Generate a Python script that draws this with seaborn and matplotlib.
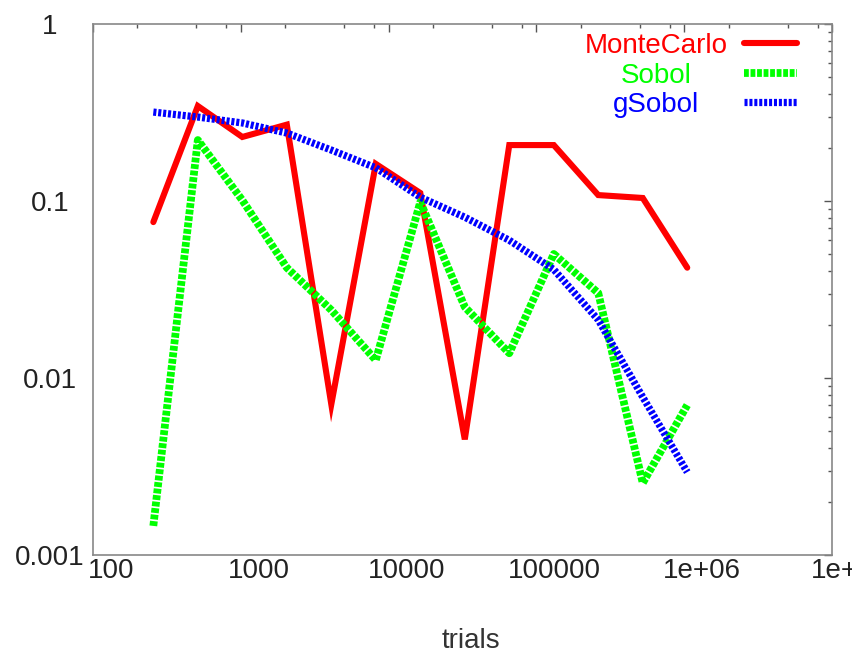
import numpy as np
import pandas as pd
import matplotlib
matplotlib.use("Agg")
import matplotlib.pyplot as plt
import matplotlib.transforms as mtrans
from matplotlib.ticker import LogLocator, NullFormatter
import seaborn as sns

# ---- data ----
trials = [256, 512, 1024, 2048, 4096, 8192, 16384, 32768, 65536,
          131072, 262144, 524288, 1048576]
monte_carlo = [0.076, 0.344, 0.23, 0.27, 0.0071, 0.162, 0.111, 0.0045,
               0.207, 0.207, 0.108, 0.104, 0.042]
sobol = [0.00146, 0.221, 0.101, 0.042, 0.0242, 0.0126, 0.0987, 0.0252,
         0.0138, 0.0502, 0.0302, 0.00255, 0.00703]
gsobol = [0.318, 0.298, 0.276, 0.242, 0.194, 0.154, 0.105, 0.081,
          0.060, 0.041, 0.0213, 0.0078, 0.00294]
series_names = ["MonteCarlo", "Sobol", "gSobol"]
x_tick_values = [100, 1000, 10000, 100000, 1000000, 10000000]
x_tick_labels = ["100", "1000", "10000", "100000", "1e+06", "1e+07"]
y_tick_values = [0.001, 0.01, 0.1, 1]
y_tick_labels = ["0.001", "0.01", "0.1", "1"]

sns.set_style("white")
plt.rcParams["font.family"] = ["Liberation Sans", "DejaVu Sans"]
plt.rcParams["font.size"] = 20

DPI = 100
fig = plt.figure(figsize=(8.53, 6.55), dpi=DPI)
ax = fig.add_axes([93 / 853, 1 - 555 / 655, (832 - 93) / 853, (555 - 24) / 655])

colors = {"MonteCarlo": "#ff0000", "Sobol": "#00ff00", "gSobol": "#0000ff"}
widths = {"MonteCarlo": 4.4, "Sobol": 5.6, "gSobol": 5.2}
dashes = {"MonteCarlo": None, "Sobol": (0.62, 0.22), "gSobol": (0.42, 0.26)}
values = {"MonteCarlo": monte_carlo, "Sobol": sobol, "gSobol": gsobol}

for name in series_names:
    df = pd.DataFrame({"trials": trials, "err": values[name]})
    n_before = len(ax.lines)
    sns.lineplot(data=df, x="trials", y="err", ax=ax, color=colors[name],
                 linewidth=widths[name], label=name, estimator=None, sort=False,
                 legend=False)
    line = ax.lines[n_before]
    line.set_solid_joinstyle("miter")
    line.set_dash_capstyle("butt")
    if dashes[name] is not None:
        line.set_dashes(dashes[name])

ax.set_xscale("log")
ax.set_yscale("log")
ax.set_xlim(100, 1e7)
ax.set_ylim(0.001, 1)

ax.set_xticks(x_tick_values)
ax.set_xticklabels(x_tick_labels)
ax.set_yticks(y_tick_values)
ax.set_yticklabels(y_tick_labels)
ax.xaxis.set_minor_locator(LogLocator(base=10, subs=[2, 5, 8], numticks=20))
ax.yaxis.set_minor_locator(LogLocator(base=10, subs=list(range(2, 10)), numticks=20))
ax.xaxis.set_minor_formatter(NullFormatter())
ax.yaxis.set_minor_formatter(NullFormatter())

ax.tick_params(which="both", direction="in", top=True, right=True,
               color="#555555", width=1.0, labelsize=20, labelcolor="#222222")
ax.tick_params(which="major", length=5.5)
ax.tick_params(which="minor", length=3)
ax.tick_params(axis="x", which="major", pad=2)
ax.tick_params(axis="y", which="major", pad=31)
for t in ax.get_yticklabels():
    t.set_ha("center")
shift = mtrans.ScaledTranslation(18 / DPI, 0, fig.dpi_scale_trans)
for t in ax.get_xticklabels():
    t.set_transform(t.get_transform() + shift)

for sp in ax.spines.values():
    sp.set_color("#888888")
    sp.set_linewidth(1.2)

ax.set_xlabel("trials", fontsize=20, color="#333333", va="center")
ax.xaxis.set_label_coords((471 - 93) / 739, -(641 - 555) / 531)
ax.set_ylabel("")

handles = ax.lines[:3]
leg = ax.legend(handles, series_names, loc="upper right",
                bbox_to_anchor=((797 - 93) / 739, (555 - 33) / 531),
                frameon=False, markerfirst=False, borderpad=0, borderaxespad=0,
                handlelength=1.9, handletextpad=0.6, labelspacing=0.13,
                fontsize=20)
for t, name in zip(leg.get_texts(), series_names):
    t.set_color(colors[name])

fig.canvas.draw()
renderer = fig.canvas.get_renderer()
ws = [t.get_window_extent(renderer).width for t in leg.get_texts()]
maxw = max(ws)
for t, w in zip(leg.get_texts(), ws):
    t.set_position((-(maxw - w) / 2, 0))

fig.savefig("out.png", dpi=DPI)
